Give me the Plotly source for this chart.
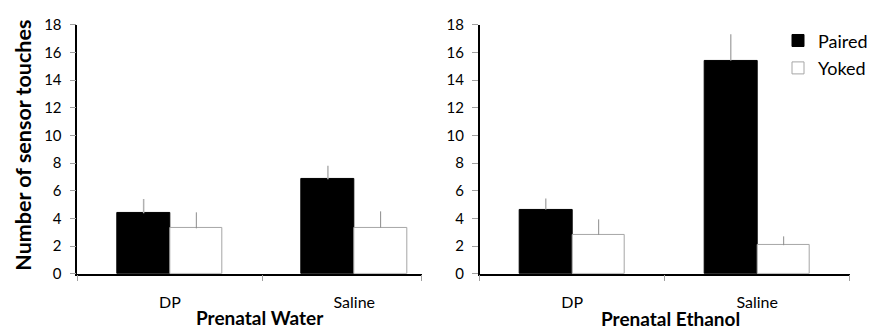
import plotly.graph_objects as go

categories = ["DP", "Saline"]
series = ["Paired", "Yoked"]

water_paired = [4.37, 6.83]
water_paired_err = [1.03, 0.98]
water_yoked = [3.28, 3.33]
water_yoked_err = [1.16, 1.18]

ethanol_paired = [4.64, 15.42]
ethanol_paired_err = [0.80, 1.90]
ethanol_yoked = [2.81, 2.06]
ethanol_yoked_err = [1.12, 0.64]

panel_titles = ["Prenatal Water", "Prenatal Ethanol"]
y_title = "Number of sensor touches"
y_ticks = list(range(0, 19, 2))

FONT = "Lato"
W, H = 873, 334
BW = 0.286
xpos = list(range(len(categories)))

fig = go.Figure()

def add_panel(paired, perr, yoked, yerr, xa, ya, show):
    fig.add_trace(go.Bar(
        x=xpos, y=paired, name=series[0], xaxis=xa, yaxis=ya,
        offset=-BW, width=BW, legendgroup="p", showlegend=show,
        marker=dict(color="black", line=dict(color="black", width=1)),
        error_y=dict(type="data", array=perr, arrayminus=[0] * len(perr),
                     symmetric=False, color="#b0b0b0", thickness=1.5, width=0),
    ))
    fig.add_trace(go.Bar(
        x=xpos, y=yoked, name=series[1], xaxis=xa, yaxis=ya,
        offset=0, width=BW, legendgroup="y", showlegend=show,
        marker=dict(color="white", line=dict(color="#a6a6a6", width=1)),
        error_y=dict(type="data", array=yerr, arrayminus=[0] * len(yerr),
                     symmetric=False, color="#8c8c8c", thickness=1, width=0),
    ))

add_panel(water_paired, water_paired_err, water_yoked, water_yoked_err, "x", "y", False)
add_panel(ethanol_paired, ethanol_paired_err, ethanol_yoked, ethanol_yoked_err, "x2", "y2", True)

ydom = [1 - 278.7 / H, 1 - 15.8 / H]
left_range = [-0.503, 1.366]
right_range = [-0.5, 1.5]

def xaxis(dom, rng):
    return dict(
        domain=dom, range=rng, showgrid=False, zeroline=False,
        showline=True, linecolor="black", linewidth=1.5,
        tickmode="array", tickvals=xpos, ticktext=categories,
        ticks="outside", ticklen=13, tickcolor="rgba(0,0,0,0)",
        tickfont=dict(family=FONT, size=16, color="black"),
        minor=dict(tickmode="array", tickvals=[rng[0], 0.5, rng[1]],
                   ticks="outside", ticklen=6, tickcolor="#a0a0a0", tickwidth=1),
        fixedrange=True,
    )

def yaxis(anchor):
    return dict(
        domain=ydom, range=[0, 18], anchor=anchor,
        tickmode="array", tickvals=y_ticks,
        showgrid=False, zeroline=False,
        showline=True, linecolor="black", linewidth=1.5,
        ticks="outside", ticklen=6, tickcolor="#a0a0a0", tickwidth=1,
        tickfont=dict(family=FONT, size=15, color="black"),
        ticklabelstandoff=5,
    )

fig.update_layout(
    width=W, height=H,
    margin=dict(l=0, r=0, t=0, b=0),
    paper_bgcolor="white", plot_bgcolor="white",
    barmode="overlay", bargap=0,
    xaxis=dict(xaxis([77.3 / W, 421.7 / W], left_range), anchor="y"),
    yaxis=yaxis("x"),
    xaxis2=dict(xaxis([479.7 / W, 849.7 / W], right_range), anchor="y2"),
    yaxis2=yaxis("x2"),
    showlegend=True,
    legend=dict(x=1, y=1 - 13 / H, xanchor="right", yanchor="top",
                bgcolor="rgba(0,0,0,0)", tracegroupgap=1,
                font=dict(family=FONT, size=18, color="black"),
                itemwidth=30),
    font=dict(family=FONT, color="black"),
    annotations=[
        dict(text="<b>%s</b>" % y_title, textangle=-90, xref="paper", yref="paper",
             x=23.4 / W, y=1 - 143 / H, xanchor="center", yanchor="middle",
             showarrow=False, font=dict(family=FONT, size=21.5, color="black")),
        dict(text="<b>%s</b>" % panel_titles[0], xref="paper", yref="paper",
             x=259.5 / W, y=1 - 325 / H, xanchor="center", yanchor="middle",
             showarrow=False, font=dict(family=FONT, size=19, color="black")),
        dict(text="<b>%s</b>" % panel_titles[1], xref="paper", yref="paper",
             x=670.5 / W, y=1 - 326 / H, xanchor="center", yanchor="middle",
             showarrow=False, font=dict(family=FONT, size=19, color="black")),
    ],
)

fig.write_html("out.html")
